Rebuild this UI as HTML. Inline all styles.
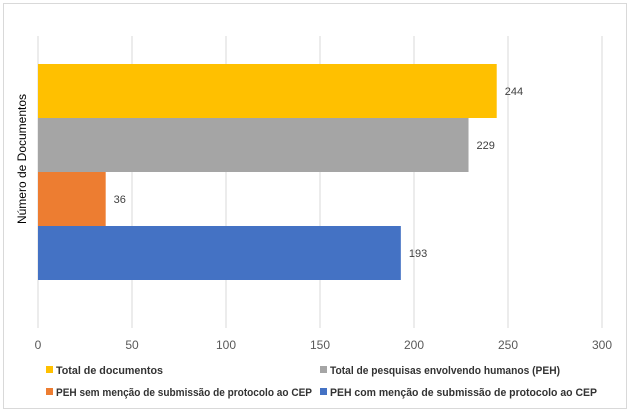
<!DOCTYPE html>
<html><head><meta charset="utf-8"><style>
body{margin:0;background:#fff;}
svg{display:block;font-family:"Liberation Sans",sans-serif;}
</style></head><body>
<svg id="c" width="631" height="413">
<rect x="3.5" y="3.5" width="623" height="405" fill="#fff" stroke="#d9d9d9"/>
<text x="0" y="0" transform="translate(26,159) rotate(-90)" text-anchor="middle" font-size="12" fill="#000">Número de Documentos</text>
<g id="grid"></g><g id="bars"></g>
<g font-size="11" font-weight="bold" fill="#333">
<rect x="46" y="366" width="7" height="7" fill="#ffc000"/>
<text x="56" y="374" textLength="107" lengthAdjust="spacingAndGlyphs">Total de documentos</text>
<rect x="320" y="366" width="7" height="7" fill="#a5a5a5"/>
<text x="330" y="374" textLength="230" lengthAdjust="spacingAndGlyphs">Total de pesquisas envolvendo humanos (PEH)</text>
<rect x="46" y="388" width="7" height="7" fill="#ed7d31"/>
<text x="56" y="396" textLength="256" lengthAdjust="spacingAndGlyphs">PEH sem menção de submissão de protocolo ao CEP</text>
<rect x="320" y="388" width="7" height="7" fill="#4472c4"/>
<text x="330" y="396" textLength="267" lengthAdjust="spacingAndGlyphs">PEH com menção de submissão de protocolo ao CEP</text>
</g>
</svg>
<script>
const categories=["Total de documentos","Total de pesquisas envolvendo humanos (PEH)","PEH sem menção de submissão de protocolo ao CEP","PEH com menção de submissão de protocolo ao CEP"];
const values=[244,229,36,193];
const colors=["#ffc000","#a5a5a5","#ed7d31","#4472c4"];
const ticks=[0,50,100,150,200,250,300];
const NS="http://www.w3.org/2000/svg";
const x=v=>38+v*(602-38)/300;
const barTop=64, barH=54;
const grid=document.getElementById('grid'), bars=document.getElementById('bars');
function mk(tag,attrs,parent){const e=document.createElementNS(NS,tag);for(const k in attrs)e.setAttribute(k,attrs[k]);parent.appendChild(e);return e;}
ticks.forEach(t=>{
  const l=mk('line',{x1:x(t),x2:x(t),y1:36,y2:328,stroke:'#d9d9d9'},grid);
  
  
  const tx=mk('text',{x:x(t),y:349,'text-anchor':'middle','font-size':12,fill:'#595959'},grid);
  tx.textContent=t;
  
  
});
values.forEach((v,i)=>{
  const r=mk('rect',{x:x(0),y:barTop+i*barH,width:x(v)-x(0),height:barH,fill:colors[i]},bars);
  
  
  const t=mk('text',{x:x(v)+8,y:barTop+i*barH+barH/2+4,'font-size':11,fill:'#404040'},bars);
  t.textContent=v;
  
  
});
</script>
</body></html>
